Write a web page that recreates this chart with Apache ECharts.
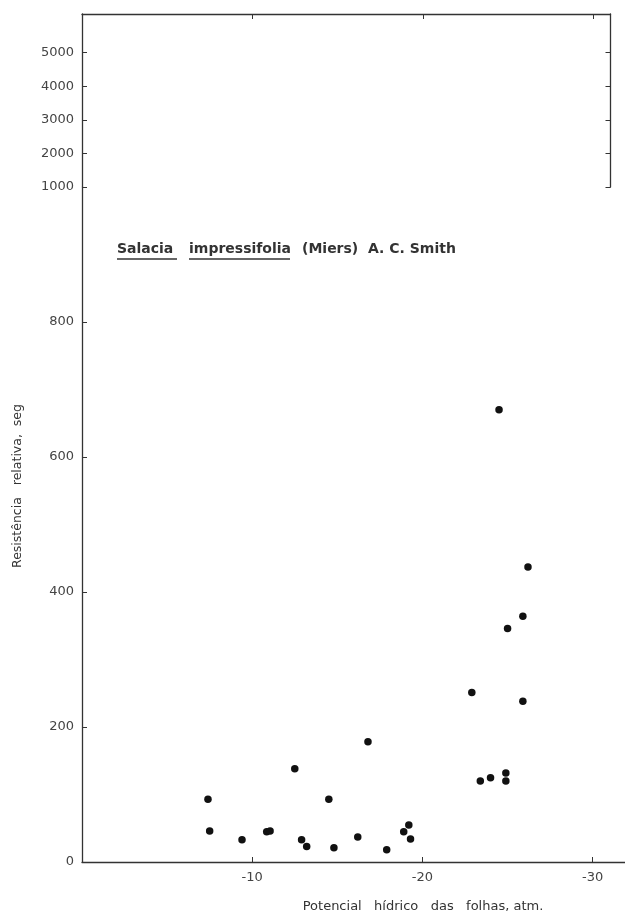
<!DOCTYPE html>
<html><head><meta charset="utf-8">
<script src="https://cdn.jsdelivr.net/npm/echarts@6/dist/echarts.min.js"></script>
<style>html,body{margin:0;padding:0;background:#fff}#c{width:625px;height:916px}</style>
</head><body><div id="c"></div>
<script>
// Leaf water potential (atm) and relative resistance (s)
const potencial = [-7.4, -7.5, -9.4, -10.85, -11.05, -12.5, -12.9, -13.2, -14.5, -14.8, -16.2, -16.8, -17.9, -18.9, -19.2, -19.3, -22.9, -23.4, -24.0, -24.5, -25.0, -24.9, -24.9, -25.9, -26.2, -25.9];
const resistencia = [93, 46, 33, 45, 46, 138, 33, 23, 93, 21, 37, 178, 18, 45, 55, 34, 251, 120, 125, 670, 346, 132, 120, 364, 437, 238];
const xTickValues = [-10, -20, -30];
const yLowerTicks = [0, 200, 400, 600, 800, 1000];
const yUpperTicks = [2000, 3000, 4000, 5000];
const yAxisTitle = 'Resistência   relativa,  seg';
const xAxisTitle = 'Potencial   hídrico   das   folhas, atm.';
const speciesParts = ['Salacia', 'impressifolia', '(Miers)', 'A. C. Smith'];

const ink = '#333333', FONT = 'DejaVu Sans';
const chart = echarts.init(document.getElementById('c'), null, {renderer: 'canvas'});
const points = potencial.map((x, i) => [x, resistencia[i]]);
const axisLine = {show: true, onZero: false, lineStyle: {color: ink, width: 1.3}};
const lbl = {fontSize: 13, color: '#444444', fontFamily: FONT, formatter: v => String(v)};

const option = {
  animation: false,
  backgroundColor: '#fff',
  grid: [
    {left: 82, top: 187, width: 544, height: 675},
    {left: 82, top: 14, width: 528.5, height: 173}
  ],
  xAxis: [
    {gridIndex: 0, type: 'value', min: -31.9, max: 0, inverse: true, position: 'bottom',
     axisLine: axisLine, splitLine: {show: false},
     axisTick: {show: true, inside: true, length: 5, customValues: xTickValues, lineStyle: {color: ink}},
     axisLabel: Object.assign({customValues: xTickValues, margin: 9}, lbl)},
    {gridIndex: 1, type: 'value', min: -31, max: 0, inverse: true, position: 'top',
     axisLine: axisLine, splitLine: {show: false},
     axisTick: {show: true, inside: true, length: 5, customValues: xTickValues, lineStyle: {color: ink}},
     axisLabel: {show: false}}
  ],
  yAxis: [
    {gridIndex: 0, type: 'value', min: 0, max: 1000, position: 'left',
     axisLine: axisLine, splitLine: {show: false},
     axisTick: {show: true, inside: true, length: 5, customValues: yLowerTicks, lineStyle: {color: ink}},
     axisLabel: Object.assign({customValues: yLowerTicks, margin: 8}, lbl)},
    {gridIndex: 1, type: 'value', min: 1000, max: 6150, position: 'left',
     axisLine: axisLine, splitLine: {show: false},
     axisTick: {show: true, inside: true, length: 5, customValues: yUpperTicks, lineStyle: {color: ink}},
     axisLabel: Object.assign({customValues: yUpperTicks, margin: 8}, lbl)},
    {gridIndex: 1, type: 'value', min: 1000, max: 6150, position: 'right',
     axisLine: axisLine, splitLine: {show: false},
     axisTick: {show: true, inside: true, length: 5, customValues: [1000].concat(yUpperTicks), lineStyle: {color: ink}},
     axisLabel: {show: false}}
  ],
  series: [
    {type: 'scatter', xAxisIndex: 0, yAxisIndex: 0, data: points, symbolSize: 7.5,
     itemStyle: {color: '#111111', opacity: 1}},
    {type: 'scatter', xAxisIndex: 1, yAxisIndex: 1, data: []}
  ],
  graphic: [
    {type: 'text', x: 18, y: 486, rotation: Math.PI / 2,
     style: {text: yAxisTitle, font: '12.5px "DejaVu Sans"', fill: ink, align: 'center', verticalAlign: 'middle'}},
    {type: 'text', x: 423, y: 907,
     style: {text: xAxisTitle, font: '13px "DejaVu Sans"', fill: ink, align: 'center', verticalAlign: 'middle'}},
    {type: 'text', x: 117, y: 249, style: {text: speciesParts[0], font: 'bold 14px "DejaVu Sans"', fill: ink, verticalAlign: 'middle'}},
    {type: 'text', x: 189, y: 249, style: {text: speciesParts[1], font: 'bold 14px "DejaVu Sans"', fill: ink, verticalAlign: 'middle'}},
    {type: 'text', x: 302, y: 249, style: {text: speciesParts[2], font: 'bold 14px "DejaVu Sans"', fill: ink, verticalAlign: 'middle'}},
    {type: 'text', x: 368, y: 249, style: {text: speciesParts[3], font: 'bold 14px "DejaVu Sans"', fill: ink, verticalAlign: 'middle'}},
    {type: 'line', shape: {x1: 117, y1: 259, x2: 177, y2: 259}, style: {stroke: ink, lineWidth: 1.5}},
    {type: 'line', shape: {x1: 189, y1: 259, x2: 290, y2: 259}, style: {stroke: ink, lineWidth: 1.5}}
  ]
};
chart.setOption(option);
</script>
</body></html>
